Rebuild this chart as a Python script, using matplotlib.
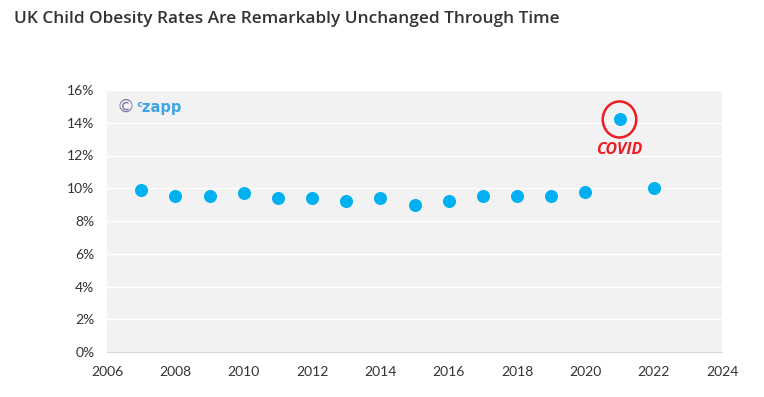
import matplotlib
matplotlib.use("Agg")
import matplotlib.pyplot as plt
from matplotlib.patches import Ellipse

years = [2007, 2008, 2009, 2010, 2011, 2012, 2013, 2014, 2015, 2016, 2017, 2018, 2019, 2020, 2021, 2022]
obesity_pct = [9.9, 9.55, 9.5, 9.7, 9.4, 9.4, 9.2, 9.4, 9.0, 9.2, 9.5, 9.5, 9.55, 9.8, 14.2, 10.0]
x_ticks = list(range(2006, 2025, 2))
y_ticks = list(range(0, 17, 2))
covid_year = 2021
covid_value = 14.2

fig = plt.figure(figsize=(7.64, 3.97), dpi=100)
ax = fig.add_axes([107 / 764, 1 - 352 / 397, (722 - 107) / 764, (352 - 90) / 397])

ax.set_facecolor("#f2f2f2")
ax.scatter(years, obesity_pct, s=88, color="#00b0f0", zorder=3, linewidths=0)

ax.set_xlim(2006, 2024)
ax.set_ylim(0, 16)
ax.set_xticks(x_ticks)
ax.set_yticks(y_ticks)
ax.set_yticklabels([f"{v}%" for v in y_ticks])
ax.grid(axis="y", color="white", linewidth=1.0, zorder=1)
ax.set_axisbelow(True)
for side in ["top", "right", "left"]:
    ax.spines[side].set_visible(False)
ax.spines["bottom"].set_color("#d9d9d9")
ax.tick_params(length=0, labelsize=10, colors="#333333")
ax.tick_params(axis="x", pad=10)
ax.tick_params(axis="y", pad=9)
for lbl in ax.get_xticklabels() + ax.get_yticklabels():
    lbl.set_family("Lato")

# COVID annotation
ax.add_patch(Ellipse((covid_year, covid_value), width=0.98, height=2.2,
                     fill=False, edgecolor="#ee1c25", linewidth=1.8, zorder=4))
ax.text(covid_year, covid_value - 1.85, "COVID", color="#ee1c25", fontsize=11.5,
        fontweight="bold", fontstyle="italic", ha="center", va="center",
        family="Open Sans", zorder=4)

# watermark
ax.text(0.016, 0.935, "©", transform=ax.transAxes, color="#7a7aa8", fontsize=13,
        ha="left", va="center", family="DejaVu Sans")
ax.text(0.048, 0.935, "ᶜzapp", transform=ax.transAxes, color="#3da5e6", fontsize=10.5,
        fontweight="bold", ha="left", va="center", family="DejaVu Sans")

fig.text(14 / 764, 1 - 19 / 397, "UK Child Obesity Rates Are Remarkably Unchanged Through Time",
         fontsize=12.4, fontweight="semibold", color="#333333", family="Open Sans",
         ha="left", va="center")

fig.savefig("out.png", dpi=100)
